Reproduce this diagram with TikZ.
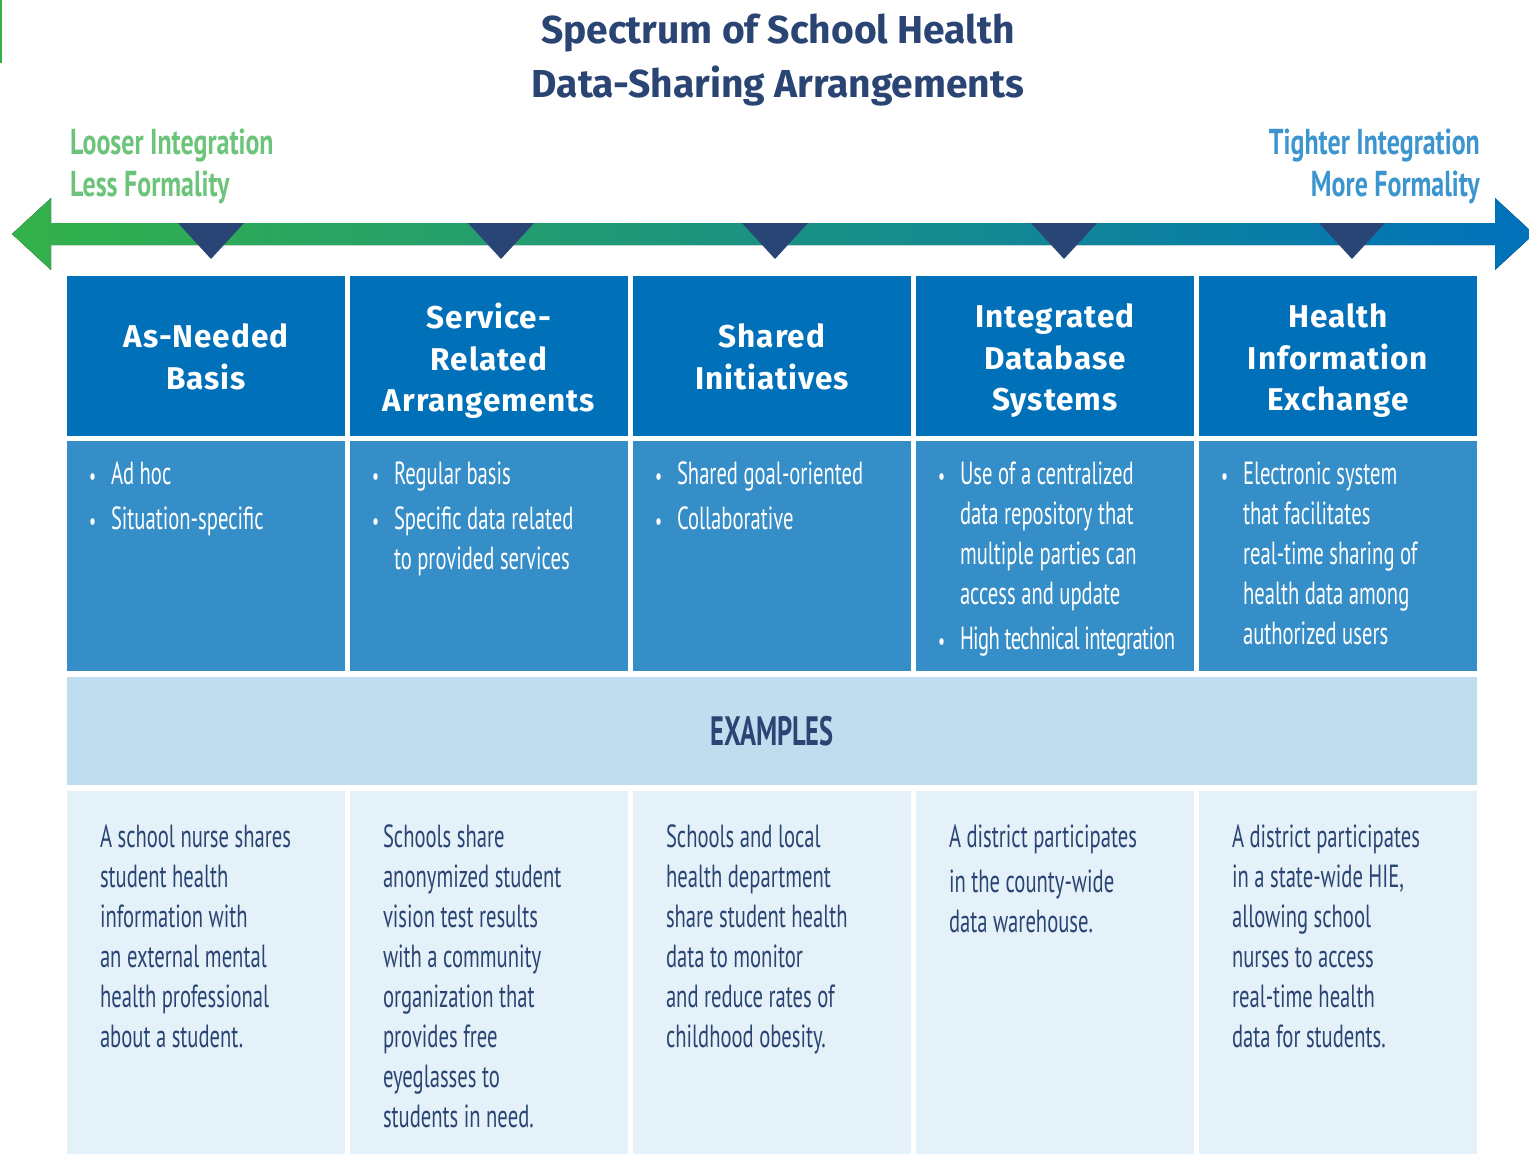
\documentclass[tikz,border=0pt]{standalone}
\usepackage{fontspec}
\setmainfont{Fira Sans}
\newfontfamily\condfont[FakeStretch=0.645]{PT Sans}
\newfontfamily\sidefont[FakeStretch=0.72]{PT Sans}
\newfontfamily\headfont[LetterSpace=3]{Fira Sans}
\usetikzlibrary{positioning}

\definecolor{navy}{RGB}{42,68,116}
\definecolor{marknavy}{RGB}{41,69,117}
\definecolor{loosegreen}{RGB}{108,196,122}
\definecolor{tightblue}{RGB}{61,149,208}
\definecolor{arrgreen}{RGB}{52,178,74}
\definecolor{arrblue}{RGB}{0,113,187}
\definecolor{headblue}{RGB}{0,112,185}
\definecolor{descblue}{RGB}{54,142,201}
\definecolor{barblue}{RGB}{191,221,238}
\definecolor{cellblue}{RGB}{229,241,248}

\newcommand{\bul}{\makebox[22pt][l]{\fontsize{24}{24}\selectfont\textbullet}}
\newcommand{\ind}{\hspace*{22pt}}

\begin{document}
\begin{tikzpicture}[x=1pt,y=-1pt,
    head/.style={fill=headblue,minimum width=278pt,minimum height=160pt,
      inner sep=0pt,text=white,align=center,
      font=\headfont\bfseries\fontsize{31.5}{41.5}\selectfont},
    desc/.style={fill=descblue,minimum width=278pt,minimum height=230pt,inner sep=0pt},
    exbox/.style={fill=cellblue,minimum width=278pt,minimum height=363pt,inner sep=0pt},
    desctext/.style={anchor=north west,inner sep=0pt,align=left,text=white,
      font=\condfont\fontsize{32}{40}\selectfont},
    extext/.style={anchor=north west,inner sep=0pt,align=left,text=navy,
      font=\condfont\fontsize{32}{40}\selectfont},
    side/.style={inner sep=0pt,font=\sidefont\bfseries\fontsize{36}{42}\selectfont}]

  \useasboundingbox (0,0) rectangle (1529,1154);
  \draw[arrgreen,line width=2pt] (1,0) -- (1,63);

  % the title and the two ends
  \node[font=\bfseries\fontsize{39}{54}\selectfont,text=navy,align=center]
    (title) at (778,60) {Spectrum of School Health\\Data-Sharing Arrangements};
  \node[side,anchor=north west,align=left,text=loosegreen] (loose) at (70,129)
    {Looser Integration\\Less Formality};
  \node[side,anchor=north east,align=right,text=tightblue] (tight) at (1480,129)
    {Tighter Integration\\More Formality};

  % the arrow
  \fill[left color=arrgreen,right color=arrblue] (12,234) -- (51,198) -- (51,223)
    -- (1495,223) -- (1495,198) -- (1534,234) -- (1495,270) -- (1495,245)
    -- (51,245) -- (51,270) -- cycle;
  \foreach \m in {211,501,775,1064,1352}
    \fill[marknavy] (\m-33,223) -- (\m+33,223) -- (\m,259) -- cycle;

  % the columns
  \foreach \i/\x/\hy/\txt in {1/206/357/{As-Needed\\Basis},
      2/489/361/{Service-\\Related\\Arrangements},
      3/772/357/{Shared\\Initiatives},
      4/1055/361/{Integrated\\Database\\Systems},
      5/1338/361/{Health\\Information\\Exchange}}{
    \fill[headblue] (\x-139,276) rectangle (\x+139,436);
    \node[head,fill=none] (h\i) at (\x,\hy) {\txt};
    \node[desc] (d\i) at (\x,556) {};
    \node[exbox] (e\i) at (\x,972.5) {};
  }

  \node[fill=barblue,minimum width=1410pt,minimum height=108pt,inner sep=0pt,
    text=navy,font=\condfont\bfseries\fontsize{41}{41}\selectfont]
    (ex) at (772,731) {EXAMPLES};

  % the descriptions
  \node[desctext] (dt1) at ([shift={(22,21)}]d1.north west)
    {\bul Ad hoc\\[5pt] \bul Situation-specific};
  \node[desctext] (dt2) at ([shift={(22,21)}]d2.north west)
    {\bul Regular basis\\[5pt] \bul Specific data related\\ \ind to provided services};
  \node[desctext] (dt3) at ([shift={(22,21)}]d3.north west)
    {\bul Shared goal-oriented\\[5pt] \bul Collaborative};
  \node[desctext] (dt4) at ([shift={(22,21)}]d4.north west)
    {\bul Use of a centralized\\ \ind data repository that\\ \ind multiple parties can\\
     \ind access and update\\[5pt] \bul {\addfontfeature{LetterSpace=-2}High technical integration}};
  \node[desctext] (dt5) at ([shift={(22,21)}]d5.north west)
    {\bul Electronic system\\ \ind that facilitates\\ \ind real-time sharing of\\
     \ind health data among\\ \ind authorized users};

  % the examples
  \node[extext] (et1) at ([shift={(33,34)}]e1.north west)
    {A school nurse shares\\ student health\\ information with\\ an external mental\\
     health professional\\ about a student.};
  \node[extext] (et2) at ([shift={(33,34)}]e2.north west)
    {Schools share\\ anonymized student\\ vision test results\\ with a community\\
     organization that\\ provides free\\ eyeglasses to\\ students in need.};
  \node[extext] (et3) at ([shift={(33,34)}]e3.north west)
    {Schools and local\\ health department\\ share student health\\ data to monitor\\
     and reduce rates of\\ childhood obesity.};
  \node[extext] (et4) at ([shift={(33,34)}]e4.north west)
    {A district participates\\[5pt] in the county-wide\\ data warehouse.};
  \node[extext] (et5) at ([shift={(33,34)}]e5.north west)
    {A district participates\\ in a state-wide HIE,\\ allowing school\\ nurses to access\\
     real-time health\\ data for students.};
\end{tikzpicture}
\end{document}
